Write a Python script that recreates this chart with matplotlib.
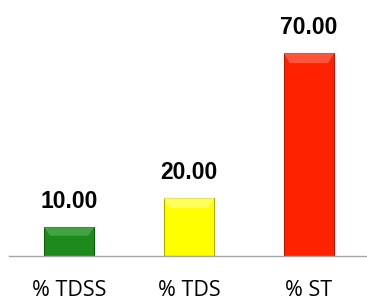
import matplotlib
matplotlib.use('Agg')
import matplotlib.pyplot as plt
from matplotlib.patches import Polygon
from matplotlib import font_manager

categories = ['% TDSS', '% TDS', '% ST']
values = [10.00, 20.00, 70.00]
colors = ['#1e8a1e', '#ffff00', '#ff2200']
edges = ['#0f5c0f', '#b0a800', '#b81800']
lights = ['#4fb04f', '#ffff80', '#ff6a55']

# pick regular-width Liberation Sans Bold (avoid the Narrow cut)
bold_file = None
for f in font_manager.fontManager.ttflist:
    if f.name == 'Liberation Sans' and f.weight in (700, 'bold') and f.style == 'normal' \
            and 'Narrow' not in f.fname:
        bold_file = f.fname
        break
if bold_file:
    vfont = font_manager.FontProperties(fname=bold_file, size=16.5)
else:
    vfont = font_manager.FontProperties(family='DejaVu Sans', weight='bold', size=15)

fig = plt.figure(figsize=(3.67, 3.01), dpi=100)
ax = fig.add_axes([9/367, 45/301, 360/367, 232/301])

x = range(len(categories))
bars = ax.bar(x, values, width=0.42, color=colors, edgecolor=edges, linewidth=0.8, zorder=2)

# bevel highlight on top of each bar
for b, lc in zip(bars, lights):
    x0, y0 = b.get_x(), b.get_y()
    w, h = b.get_width(), b.get_height()
    dx = w * 0.12
    dy = min(h * 0.3, 3.5)
    top = Polygon([(x0, y0 + h), (x0 + w, y0 + h), (x0 + w - dx, y0 + h - dy), (x0 + dx, y0 + h - dy)],
                  closed=True, facecolor=lc, edgecolor='none', alpha=0.7, zorder=3)
    ax.add_patch(top)

for b, v in zip(bars, values):
    ax.annotate(f'{v:.2f}', (b.get_x() + b.get_width() / 2, v), xytext=(0, 14), textcoords='offset points',
                ha='center', va='baseline', fontproperties=vfont)

ax.set_xlim(-0.5, 2.5)
ax.set_ylim(0, 80)
ax.set_xticks(list(x))
ax.set_xticklabels(categories, fontsize=15.5, family='Open Sans')
ax.tick_params(axis='x', length=0, pad=17)
ax.set_yticks([])
for s in ['top', 'right', 'left']:
    ax.spines[s].set_visible(False)
ax.spines['bottom'].set_color('#a6a6a6')
ax.spines['bottom'].set_linewidth(1.0)

fig.savefig('out.png', dpi=100)
